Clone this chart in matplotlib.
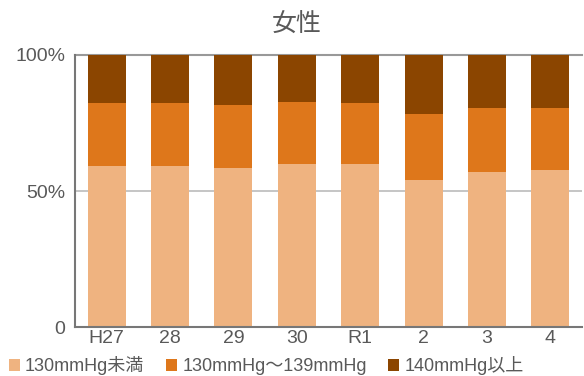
import matplotlib
matplotlib.use("Agg")
import matplotlib.pyplot as plt
import numpy as np

categories = ["H27", "28", "29", "30", "R1", "2", "3", "4"]
series_names = ["130mmHg未満", "130mmHg～139mmHg", "140mmHg以上"]
below130 = [59.2, 59.2, 58.5, 60.0, 60.0, 54.1, 57.1, 57.8]
r130_139 = [23.1, 23.1, 23.1, 22.7, 22.3, 24.2, 23.4, 22.7]
above140 = [17.7, 17.7, 18.4, 17.3, 17.7, 21.7, 19.5, 19.5]
colors = ["#EFB380", "#DE771B", "#8B4500"]
yticks = [0, 50, 100]
yticklabels = ["0", "50%", "100%"]
title = "女性"

fams = ["Liberation Sans", "Noto Sans CJK JP", "DejaVu Sans"]
plt.rcParams["font.family"] = fams
txt = "#595959"

fig = plt.figure(figsize=(5.84, 3.76), dpi=100)
ax = fig.add_axes([0.1284, 0.129, 0.8682, 0.726])

x = np.arange(len(categories))
bottom = np.zeros(len(categories))
handles = []
for vals, c, name in zip([below130, r130_139, above140], colors, series_names):
    b = ax.bar(x, vals, width=0.6, bottom=bottom, color=c, label=name, zorder=2)
    handles.append(b)
    bottom += np.array(vals)

ax.set_xlim(-0.5, len(categories) - 0.5)
ax.set_ylim(0, 100)
ax.set_yticks(yticks)
ax.set_yticklabels(yticklabels)
ax.set_xticks(x)
ax.set_xticklabels(categories)
ax.tick_params(axis="both", length=0, labelsize=14, colors=txt)
ax.tick_params(axis="y", pad=7)
ax.tick_params(axis="x", pad=1.5)
ax.yaxis.grid(True, color="#bbbbbb", linewidth=1.2, zorder=0)
ax.set_axisbelow(True)
for s in ["top", "right"]:
    ax.spines[s].set_visible(False)
ax.axhline(100, color="#999999", linewidth=1.5, zorder=1, clip_on=False)
for s in ["left", "bottom"]:
    ax.spines[s].set_color("#777777")
    ax.spines[s].set_linewidth(1.5)

fig.text(0.508, 0.933, title, ha="center", va="center", fontsize=18, color=txt,
         family=["Noto Sans CJK JP", "DejaVu Sans"])

leg = fig.legend(handles=handles, labels=series_names, loc="center",
                 bbox_to_anchor=(0.456, 0.027), ncol=3, frameon=False,
                 fontsize=13, handlelength=0.6, handleheight=0.7,
                 handletextpad=0.3, columnspacing=1.2, borderpad=0)
for t in leg.get_texts():
    t.set_color(txt)

fig.savefig("out.png", dpi=100)
